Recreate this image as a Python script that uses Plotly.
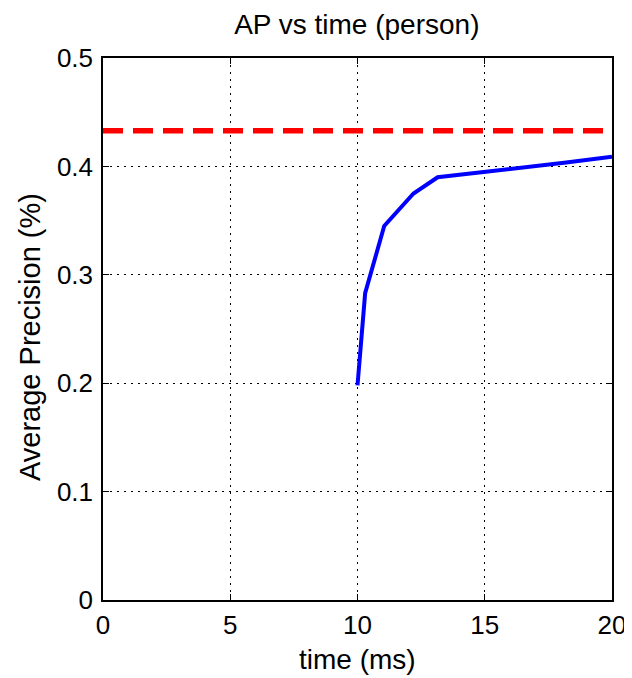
import plotly.graph_objects as go

time_ms = [10.0, 10.3, 11.05, 12.2, 13.15, 15.1, 18.2, 20.0]
ap = [0.198, 0.283, 0.345, 0.375, 0.390, 0.395, 0.4035, 0.409]
baseline_ap = 0.433
x_ticks = [0, 5, 10, 15, 20]
y_ticks = [0, 0.1, 0.2, 0.3, 0.4, 0.5]
y_tick_labels = ["0", "0.1", "0.2", "0.3", "0.4", "0.5"]

fig = go.Figure()
fig.add_trace(go.Scatter(x=[x_ticks[0], x_ticks[-1]], y=[baseline_ap, baseline_ap], mode="lines",
                         line=dict(color="#ff0000", width=5.5, dash="20px,10px"), showlegend=False))
fig.add_trace(go.Scatter(x=time_ms, y=ap, mode="lines",
                         line=dict(color="#0000ff", width=4), showlegend=False))

font = "Liberation Sans, Arial, sans-serif"
axis_common = dict(showline=True, linecolor="black", linewidth=1.5, mirror="ticks",
                   ticks="inside", ticklen=6, tickcolor="black", automargin=False,
                   ticklabeloverflow="allow",
                   showgrid=True, gridcolor="black", gridwidth=1, griddash="2px,5px",
                   zeroline=False, tickfont=dict(family=font, size=26, color="black"))

fig.update_layout(
    width=624, height=670,
    margin=dict(l=95, r=20, t=50, b=78),
    paper_bgcolor="white", plot_bgcolor="white",
    title=dict(text="AP vs time (person)", x=0.559, xanchor="center", y=0.976, yanchor="middle",
               font=dict(family=font, size=28, color="black")),
    xaxis=dict(range=[0, 20], tickvals=x_ticks, ticklabelstandoff=1, **axis_common),
    yaxis=dict(range=[0, 0.5], tickvals=y_ticks, ticktext=y_tick_labels, ticklabelstandoff=3,
               **axis_common),
    annotations=[
        dict(text="Average Precision (%)", textangle=-90, showarrow=False,
             xref="paper", yref="paper", x=0, y=0.5, xanchor="center", yanchor="middle",
             xshift=-73, yshift=-8, font=dict(family=font, size=29, color="black")),
        dict(text="time (ms)", showarrow=False,
             xref="paper", yref="paper", x=0.5, y=0, xanchor="center", yanchor="middle",
             yshift=-59, font=dict(family=font, size=28, color="black")),
    ],
)
fig.write_html("out.html")
